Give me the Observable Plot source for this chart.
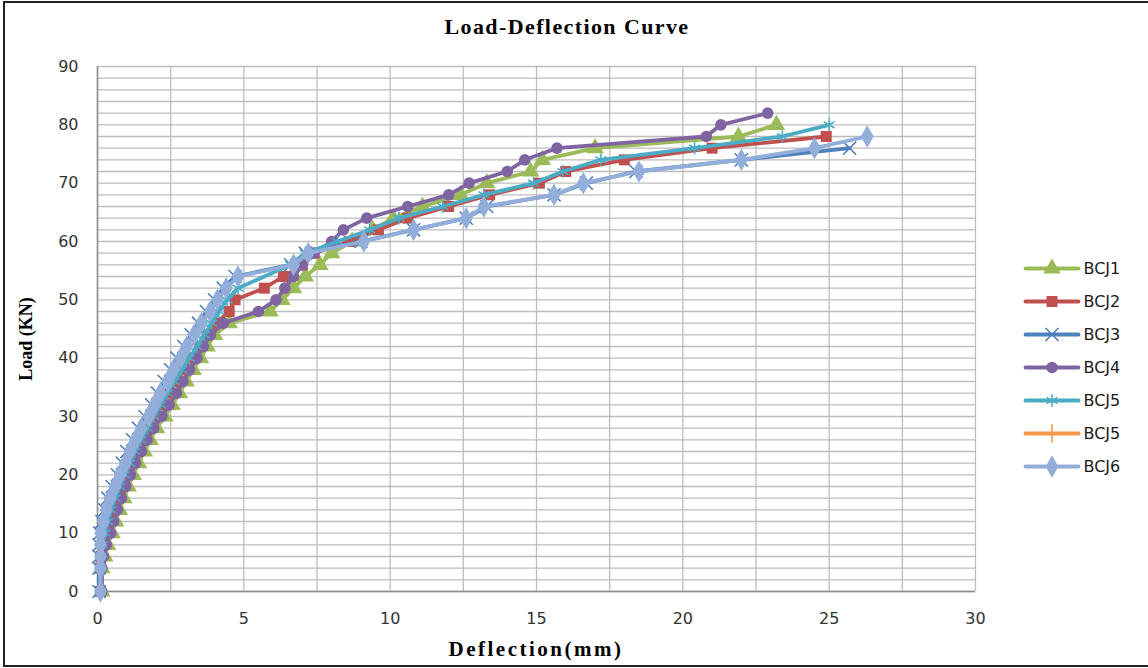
<!DOCTYPE html>
<html>
<head>
<meta charset="utf-8">
<script src="https://cdn.jsdelivr.net/npm/d3@7"></script>
<script src="https://cdn.jsdelivr.net/npm/@observablehq/plot@0.6"></script>
<style>
  body { margin: 0; background: #fff; }
  #wrap { position: relative; width: 1148px; height: 668px; overflow: hidden; background: #fff; }
  #frame { position: absolute; left: 3px; top: 1px; width: 1160px; height: 666px; border: 2px solid #222; box-sizing: border-box; pointer-events: none; }
  .lbl { position: absolute; font-family: "Liberation Serif", "Times New Roman", serif; font-weight: bold; color: #000; white-space: nowrap; }
  #title { left: 0; width: 1134px; top: 14px; text-align: center; font-size: 22px; letter-spacing: 1.4px; }
  #xlabel { left: 97px; width: 878px; top: 637px; text-align: center; font-size: 21px; letter-spacing: 2.5px; }
  #ylabel { left: 26px; top: 339px; font-size: 18px; transform: translate(-50%, -50%) rotate(-90deg); }
  #chart { position: absolute; left: 0; top: 0; }
  #legend { position: absolute; left: 1000px; top: 230px; }
</style>
</head>
<body>
<div id="wrap">
  <div id="chart"></div>
  <div id="legend"></div>
  <div id="title" class="lbl">Load-Deflection Curve</div>
  <div id="xlabel" class="lbl">Deflection(mm)</div>
  <div id="ylabel" class="lbl">Load (KN)</div>
  <div id="frame"></div>
</div>
<script>
// ---- tick labels ----
const xTicks = [0, 5, 10, 15, 20, 25, 30];
const yTicks = [0, 10, 20, 30, 40, 50, 60, 70, 80, 90];
const xGrid = [0, 2.5, 5, 7.5, 10, 12.5, 15, 17.5, 20, 22.5, 25, 27.5, 30];
const yGrid = [0,2,4,6,8,10,12,14,16,18,20,22,24,26,28,30,32,34,36,38,40,42,44,46,48,50,52,54,56,58,60,62,64,66,68,70,72,74,76,78,80,82,84,86,88,90];

// ---- series ----
const seriesKeys   = ["BCJ1", "BCJ2", "BCJ3", "BCJ4", "BCJ5", "BCJ5b", "BCJ6"];
const seriesLabels = ["BCJ1", "BCJ2", "BCJ3", "BCJ4", "BCJ5", "BCJ5", "BCJ6"];

const BCJ1_load = [0,4,6,8,10,12,14,16,18,20,22,24,26,28,30,32,34,36,38,40,42,44,46,48,50,52,54,56,58,60,62,64,66,68,70,72,74,76,78,80];
const BCJ1_defl = [0.15,0.15,0.25,0.35,0.5,0.62,0.75,0.9,1.05,1.22,1.4,1.6,1.8,2.02,2.3,2.55,2.8,3.03,3.27,3.52,3.75,4.0,4.5,5.9,6.3,6.7,7.1,7.6,8.0,8.7,9.4,10.1,11.1,12.4,13.3,14.8,15.2,17.0,21.9,23.2];

const BCJ2_load = [0,4,6,8,10,12,14,16,18,20,22,24,26,28,30,32,34,36,38,40,42,44,46,48,50,52,54,56,58,60,62,64,66,68,70,72,74,76,78];
const BCJ2_defl = [0.1,0.1,0.12,0.2,0.3,0.42,0.55,0.7,0.85,1.0,1.17,1.35,1.55,1.77,2.0,2.22,2.45,2.7,2.95,3.22,3.5,3.75,4.05,4.5,4.7,5.7,6.35,7.0,7.4,8.6,9.6,10.6,12.0,13.4,15.1,16.0,18.0,21.0,24.9];

const BCJ3_load = [0,4,6,8,10,12,14,16,18,20,22,24,26,28,30,32,34,36,38,40,42,44,46,48,50,52,54,56,58,60,62,64,66,68,70,72,74,76];
const BCJ3_defl = [0.05,0.05,0.05,0.05,0.08,0.15,0.25,0.35,0.5,0.68,0.85,1.0,1.2,1.4,1.62,1.85,2.05,2.28,2.5,2.72,2.95,3.2,3.45,3.72,4.0,4.3,4.7,6.6,7.1,9.0,10.8,12.6,13.3,15.6,16.7,18.4,22.0,25.7];

const BCJ4_load = [0,4,6,8,10,12,14,16,18,20,22,24,26,28,30,32,34,36,38,40,42,44,46,48,50,52,54,56,58,60,62,64,66,68,70,72,74,76,78,80,82];
const BCJ4_defl = [0.15,0.15,0.2,0.3,0.45,0.55,0.68,0.82,0.97,1.13,1.3,1.5,1.7,1.92,2.2,2.45,2.7,2.92,3.15,3.4,3.62,3.86,4.3,5.5,6.1,6.4,6.7,7.0,7.4,8.0,8.4,9.2,10.6,12.0,12.7,14.0,14.6,15.7,20.8,21.3,22.9];

const BCJ5_load = [0,4,6,8,10,12,14,16,18,20,22,24,26,28,30,32,34,36,38,40,42,44,46,48,50,52,56,58,60,62,64,66,68,70,72,74,76,78,80];
const BCJ5_defl = [0.1,0.1,0.1,0.15,0.25,0.35,0.45,0.6,0.75,0.92,1.1,1.28,1.48,1.7,1.92,2.15,2.38,2.62,2.87,3.13,3.4,3.65,3.9,4.15,4.43,4.8,6.6,7.1,8.2,9.3,10.3,11.8,13.2,14.9,15.9,17.2,20.4,23.4,25.0];

const BCJ5b_load = [];
const BCJ5b_defl = [];

const BCJ6_load = [0,4,6,8,10,12,14,16,18,20,22,24,26,28,30,32,34,36,38,40,42,44,46,48,50,52,54,56,58,60,62,64,66,68,70,72,74,76,78];
const BCJ6_defl = [0.1,0.1,0.1,0.1,0.11,0.2,0.3,0.42,0.6,0.77,0.95,1.1,1.3,1.5,1.75,1.95,2.15,2.4,2.6,2.84,3.05,3.3,3.55,3.85,4.1,4.4,4.8,6.7,7.2,9.1,10.8,12.6,13.2,15.6,16.6,18.5,22.0,24.5,26.3];

const seriesColors  = ["#9BBB59", "#C0504D", "#4F81BD", "#8064A2", "#4BACC6", "#F79646", "#93AEDA"];
const seriesSymbols = ["triangle", "square", "times", "circle", "asterisk", "plus", "diamond"];
const loads = [BCJ1_load, BCJ2_load, BCJ3_load, BCJ4_load, BCJ5_load, BCJ5b_load, BCJ6_load];
const defls = [BCJ1_defl, BCJ2_defl, BCJ3_defl, BCJ4_defl, BCJ5_defl, BCJ5b_defl, BCJ6_defl];

const strokeSymbols = new Set(["times", "asterisk", "plus"]);
const symR = { triangle: 6.5, square: 6.2, circle: 5.8, diamond: 6.8, times: 6, asterisk: 6, plus: 6 };

const seriesMarks = [];
seriesKeys.forEach((k, i) => {
  const rows = loads[i].map((L, j) => ({ load: L, defl: defls[i][j] }));
  const color = seriesColors[i];
  const sym = seriesSymbols[i];
  seriesMarks.push(Plot.line(rows, { x: "defl", y: "load", stroke: color, strokeWidth: 3.8, strokeLinejoin: "round", strokeLinecap: "round" }));
  if (strokeSymbols.has(sym)) {
    seriesMarks.push(Plot.dot(rows, { x: "defl", y: "load", symbol: sym, r: symR[sym], stroke: color, strokeWidth: 1.6, fill: "none" }));
  } else {
    seriesMarks.push(Plot.dot(rows, { x: "defl", y: "load", symbol: sym, r: symR[sym], fill: color, stroke: "none" }));
  }
});

const chart = Plot.plot({
  width: 1148,
  height: 668,
  marginLeft: 97,
  marginRight: 173,
  marginTop: 66,
  marginBottom: 77,
  x: { domain: [0, 30] },
  y: { domain: [0, 90] },
  style: { fontFamily: "DejaVu Sans, sans-serif", fontSize: "16px", color: "#333", background: "transparent", overflow: "visible" },
  marks: [
    Plot.gridX(xGrid, { stroke: "#bdbdbd", strokeOpacity: 1, strokeWidth: 1.3 }),
    Plot.gridY(yGrid, { stroke: "#bdbdbd", strokeOpacity: 1, strokeWidth: 1.3 }),
    Plot.ruleX([0], { stroke: "#8c8c8c", strokeWidth: 1.5 }),
    Plot.ruleY([0], { stroke: "#8c8c8c", strokeWidth: 1.5 }),
    Plot.axisX(xTicks, { tickSize: 0, tickPadding: 21, label: null, fill: "#333" }),
    Plot.axisY(yTicks, { tickSize: 0, tickPadding: 19, label: null, fill: "#333" }),
    ...seriesMarks
  ]
});
document.getElementById("chart").appendChild(chart);

// ---- legend ----
const legendRows = seriesKeys.map((k, i) => ({ key: k, label: seriesLabels[i], color: seriesColors[i], symbol: seriesSymbols[i] }));
const legendMarks = [
  Plot.link(legendRows, { x1: () => 0, x2: () => 1, y1: "key", y2: "key", stroke: "color", strokeWidth: 3.8, strokeLinecap: "round" }),
  Plot.text(legendRows, { x: () => 1, y: "key", text: "label", dx: 5, textAnchor: "start", fill: "#1a1a1a", fontSize: 16, fontFamily: "DejaVu Sans, sans-serif", style: "letter-spacing:2px" })
];
legendRows.forEach(r => {
  if (strokeSymbols.has(r.symbol)) {
    legendMarks.push(Plot.dot([r], { x: () => 0.5, y: "key", symbol: r.symbol, r: symR[r.symbol], stroke: r.color, strokeWidth: 1.6, fill: "none" }));
  } else {
    legendMarks.push(Plot.dot([r], { x: () => 0.5, y: "key", symbol: r.symbol, r: symR[r.symbol], fill: r.color, stroke: "none" }));
  }
});
const legend = Plot.plot({
  width: 148,
  height: 280,
  margin: 0,
  x: { domain: [0, 1], range: [25, 78], axis: null },
  y: { type: "point", domain: seriesKeys, range: [20, 253], axis: null },
  style: { background: "transparent", overflow: "visible" },
  marks: legendMarks
});
document.getElementById("legend").appendChild(legend);
</script>
</body>
</html>
